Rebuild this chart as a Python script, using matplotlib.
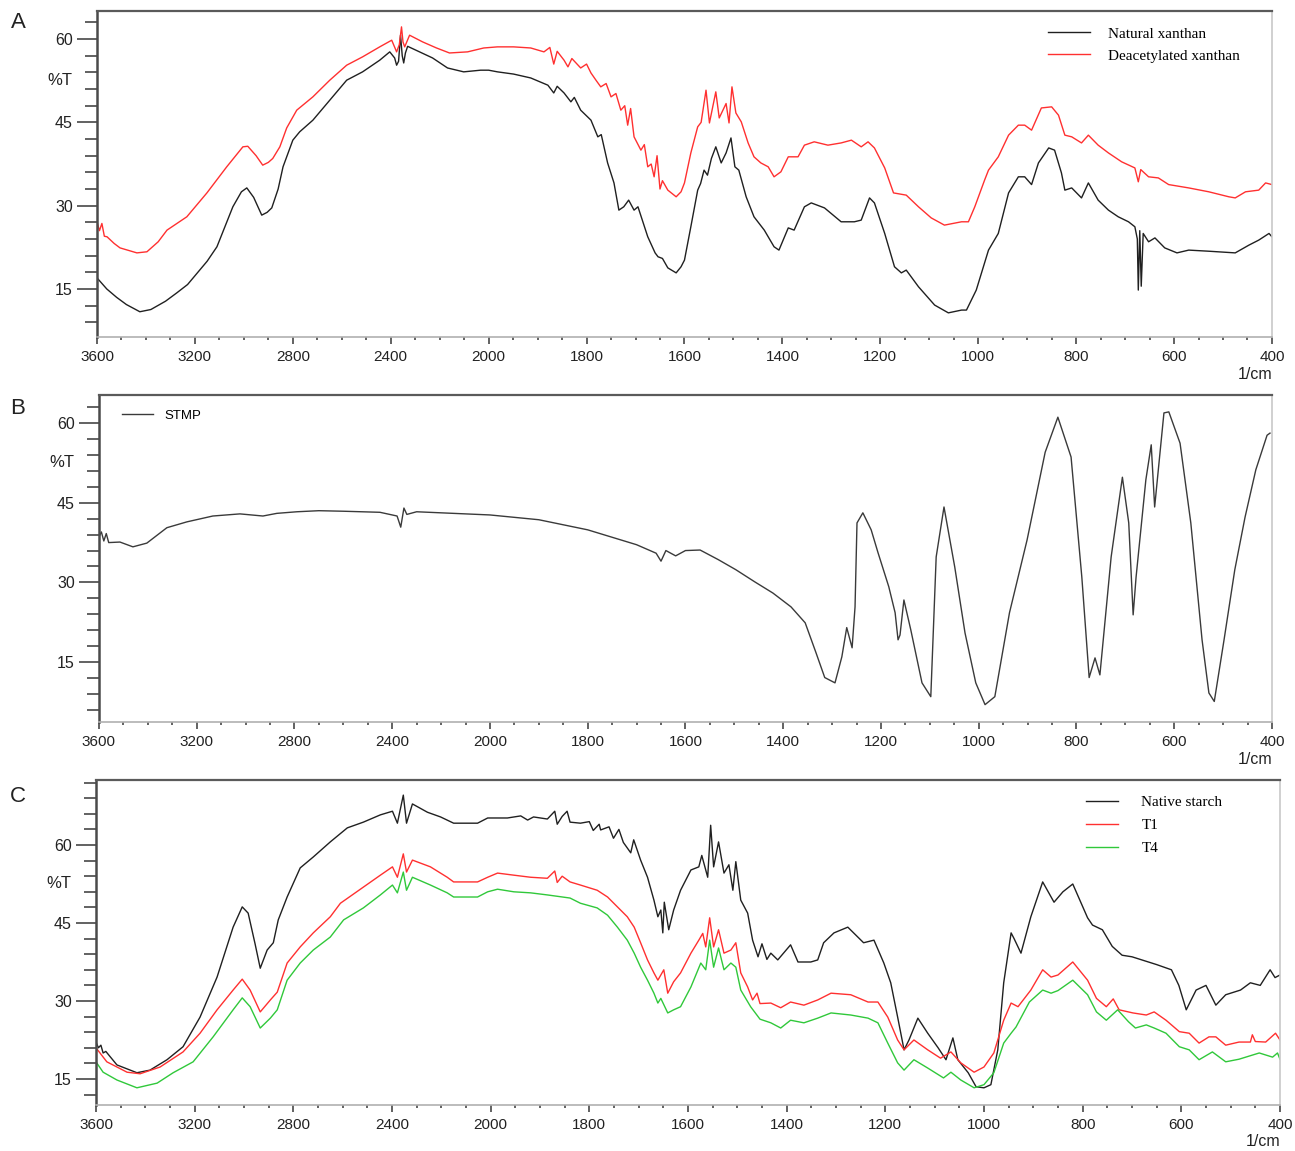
"""FTIR spectra of xanthan, STMP and cross-linked starch, drawn on a Shimadzu-style split wavenumber axis."""

import numpy as np
import matplotlib
matplotlib.use("Agg")
import matplotlib.pyplot as plt
from matplotlib.ticker import FixedLocator, NullFormatter
from matplotlib.transforms import blended_transform_factory, ScaledTranslation

# panel A: natural and deacetylated xanthan
natural_wn = [3600, 3580, 3560, 3520, 3480, 3425, 3380, 3320, 3274, 3230, 3190, 3150, 3110, 3045, 3010,
              2988, 2960, 2927, 2905, 2886, 2860, 2840, 2800, 2772, 2718, 2649, 2580, 2515, 2445, 2404,
              2384, 2376, 2368, 2360, 2353, 2347, 2340, 2331, 2282, 2229, 2168, 2102, 2033, 2000, 1982,
              1949, 1914, 1879, 1867, 1860, 1846, 1832, 1825, 1812, 1791, 1777, 1770, 1757, 1744, 1734,
              1724, 1714, 1703, 1695, 1675, 1660, 1654, 1645, 1634, 1617, 1607, 1600, 1587, 1573, 1567,
              1560, 1553, 1545, 1536, 1525, 1515, 1505, 1497, 1489, 1474, 1458, 1437, 1417, 1407, 1388,
              1376, 1355, 1341, 1314, 1280, 1253, 1239, 1222, 1212, 1191, 1171, 1157, 1147, 1122, 1089,
              1061, 1034, 1024, 1004, 979, 959, 938, 918, 905, 891, 877, 856, 844, 830, 823, 809, 789,
              775, 755, 734, 714, 693, 680, 675, 673, 670, 667, 663, 652, 639, 619, 594, 570, 529, 475,
              447, 427, 406, 400]
natural_t = [17.0, 16.0, 15.0, 13.5, 12.2, 10.9, 11.3, 12.8, 14.3, 15.8, 17.9, 20.0, 22.6, 29.8, 32.5,
             33.2, 31.5, 28.3, 28.8, 29.6, 33.0, 37.0, 41.8, 43.3, 45.4, 49.0, 52.6, 54.1, 56.2, 57.7,
             56.6, 55.3, 56.0, 60.7, 57.0, 55.7, 57.5, 58.7, 57.7, 56.6, 54.8, 54.1, 54.4, 54.4, 54.1,
             53.7, 53.0, 51.7, 50.3, 51.5, 50.3, 48.7, 49.5, 47.2, 45.4, 42.4, 42.8, 37.7, 34.1, 29.2,
             29.8, 31.0, 29.2, 29.8, 24.4, 21.5, 20.8, 20.5, 18.8, 17.9, 19.0, 20.2, 26.2, 32.8, 34.0,
             36.4, 35.5, 38.5, 40.6, 37.7, 39.5, 42.2, 37.0, 36.4, 31.6, 28.0, 25.6, 22.6, 22.0, 26.0,
             25.6, 29.8, 30.5, 29.6, 27.1, 27.1, 27.4, 31.4, 30.5, 25.0, 19.0, 17.9, 18.4, 15.4, 12.1,
             10.7, 11.2, 11.2, 14.8, 22.0, 25.0, 32.3, 35.2, 35.2, 33.8, 37.7, 40.4, 40.0, 35.9, 32.8,
             33.2, 31.4, 34.1, 31.0, 29.2, 28.0, 27.1, 26.2, 24.0, 14.8, 25.5, 15.5, 25.0, 23.5, 24.2,
             22.4, 21.5, 22.0, 21.8, 21.5, 22.9, 23.8, 25.0, 24.4]

deacetyl_wn = [3600, 3590, 3580, 3570, 3559, 3530, 3506, 3437, 3396, 3350, 3314, 3233, 3151, 3070, 3004,
               2984, 2950, 2923, 2900, 2882, 2853, 2825, 2784, 2718, 2649, 2580, 2515, 2445, 2396, 2376,
               2365, 2356, 2350, 2343, 2323, 2270, 2213, 2160, 2086, 2020, 1982, 1949, 1914, 1887, 1875,
               1867, 1860, 1846, 1838, 1830, 1812, 1800, 1791, 1780, 1771, 1760, 1750, 1740, 1730, 1722,
               1716, 1710, 1703, 1689, 1682, 1675, 1668, 1662, 1656, 1650, 1645, 1634, 1617, 1607, 1600,
               1587, 1573, 1566, 1556, 1549, 1536, 1529, 1515, 1509, 1503, 1495, 1484, 1470, 1458, 1444,
               1429, 1417, 1403, 1388, 1368, 1355, 1335, 1307, 1280, 1259, 1239, 1225, 1212, 1191, 1173,
               1147, 1122, 1096, 1069, 1034, 1020, 1007, 987, 979, 959, 938, 918, 905, 891, 871, 850, 836,
               823, 809, 789, 775, 755, 734, 707, 680, 673, 668, 652, 632, 611, 570, 529, 488, 475, 454,
               427, 413, 400]
deacetyl_t = [27.1, 25.5, 26.8, 24.5, 24.4, 23.2, 22.4, 21.5, 21.7, 23.5, 25.6, 28.0, 32.3, 37.0, 40.6,
              40.7, 39.0, 37.3, 37.8, 38.5, 40.6, 44.0, 47.2, 49.6, 52.6, 55.3, 56.8, 58.6, 59.8, 57.7,
              59.0, 62.2, 59.5, 58.6, 60.7, 59.5, 58.4, 57.5, 57.7, 58.4, 58.6, 58.6, 58.4, 57.7, 58.5,
              55.5, 57.8, 56.2, 55.0, 56.5, 54.8, 55.5, 53.9, 52.5, 51.4, 52.0, 49.6, 50.2, 47.2, 48.0,
              44.5, 47.5, 42.4, 40.0, 41.0, 37.0, 37.5, 35.2, 39.0, 33.0, 34.5, 32.8, 31.6, 32.5, 34.1,
              39.5, 44.2, 45.0, 50.8, 44.9, 50.5, 45.8, 48.4, 44.9, 51.4, 46.7, 45.1, 41.3, 38.8, 37.7,
              37.0, 35.2, 36.1, 38.8, 38.8, 40.9, 41.5, 40.9, 41.3, 41.8, 40.6, 41.5, 40.4, 36.8, 32.3,
              31.9, 29.8, 27.8, 26.5, 27.1, 27.1, 29.8, 34.6, 36.4, 38.8, 42.7, 44.5, 44.5, 43.6, 47.6,
              47.8, 46.3, 42.7, 42.4, 41.3, 42.7, 40.9, 39.5, 37.9, 36.8, 34.3, 36.5, 35.2, 35.0, 33.8,
              33.2, 32.5, 31.6, 31.4, 32.5, 32.8, 34.1, 33.8]

# panel B: sodium trimetaphosphate
stmp_wn = [3600, 3590, 3580, 3570, 3560, 3514, 3461, 3404, 3322, 3240, 3134, 3023, 2929, 2872, 2790,
           2700, 2600, 2450, 2380, 2365, 2352, 2340, 2300, 2150, 2000, 1900, 1800, 1700, 1660, 1650,
           1640, 1620, 1600, 1570, 1533, 1497, 1458, 1421, 1384, 1355, 1333, 1315, 1294, 1280, 1270,
           1259, 1253, 1249, 1237, 1220, 1206, 1184, 1171, 1165, 1161, 1153, 1139, 1116, 1098, 1087,
           1071, 1049, 1028, 1006, 987, 967, 937, 901, 864, 838, 811, 789, 774, 762, 752, 729, 706,
           693, 684, 678, 658, 647, 640, 621, 611, 588, 566, 543, 529, 518, 498, 476, 455, 433, 410,
           404]
stmp_t = [38.6, 39.5, 37.8, 39.2, 37.5, 37.6, 36.7, 37.4, 40.3, 41.4, 42.5, 42.9, 42.5, 43.0, 43.3,
          43.5, 43.4, 43.2, 42.5, 40.4, 44.0, 42.8, 43.3, 43.0, 42.7, 41.8, 39.9, 37.1, 35.5, 34.0,
          36.0, 35.0, 36.0, 36.1, 34.3, 32.4, 30.1, 28.0, 25.4, 22.4, 16.8, 12.1, 11.1, 16.0, 21.5,
          17.7, 25.4, 41.2, 43.1, 39.9, 35.6, 29.2, 24.3, 19.2, 20.1, 26.7, 21.1, 11.1, 8.5, 34.8,
          44.2, 32.9, 20.5, 11.1, 7.0, 8.5, 24.3, 38.0, 54.5, 61.1, 53.6, 31.0, 12.1, 15.8, 12.6, 34.8,
          49.8, 41.2, 23.9, 31.0, 49.3, 55.9, 44.2, 61.9, 62.1, 56.2, 41.2, 19.2, 9.2, 7.6, 19.2, 32.4,
          42.3, 51.2, 57.7, 58.1]

# panel C: native starch and cross-linked samples T1, T4
native_wn = [3600, 3590, 3580, 3571, 3560, 3515, 3434, 3381, 3312, 3247, 3178, 3109, 3044, 3007, 2983,
             2955, 2934, 2906, 2881, 2861, 2825, 2772, 2719, 2650, 2581, 2516, 2447, 2398, 2378, 2354,
             2341, 2317, 2256, 2203, 2150, 2053, 2012, 1966, 1939, 1925, 1913, 1885, 1870, 1865, 1855,
             1845, 1839, 1818, 1800, 1792, 1780, 1777, 1760, 1751, 1740, 1731, 1716, 1710, 1696, 1682,
             1669, 1661, 1655, 1651, 1648, 1639, 1629, 1615, 1594, 1578, 1572, 1560, 1554, 1548, 1538,
             1527, 1517, 1509, 1503, 1493, 1479, 1469, 1458, 1450, 1440, 1432, 1418, 1392, 1377, 1351,
             1337, 1325, 1304, 1276, 1244, 1223, 1203, 1189, 1175, 1162, 1152, 1134, 1114, 1093, 1077,
             1063, 1053, 1032, 1016, 1000, 986, 972, 960, 945, 939, 925, 905, 881, 858, 840, 820, 790,
             780, 760, 740, 720, 700, 680, 650, 620, 605, 590, 570, 550, 530, 510, 480, 460, 440, 420,
             410, 400]
native_t = [22.1, 21.0, 21.5, 20.0, 20.3, 17.7, 16.2, 16.7, 18.7, 21.2, 26.9, 34.6, 44.2, 48.1, 46.9,
            41.0, 36.3, 39.8, 41.2, 45.6, 50.0, 55.6, 57.7, 60.6, 63.3, 64.4, 65.8, 66.5, 64.2, 69.6,
            64.2, 67.9, 66.3, 65.4, 64.2, 64.2, 65.2, 65.2, 65.6, 64.8, 65.4, 65.0, 66.5, 64.0, 65.5,
            66.5, 64.4, 64.2, 64.5, 62.8, 64.0, 62.9, 63.5, 61.3, 63.0, 60.5, 58.5, 61.0, 57.1, 53.8,
            49.4, 46.2, 47.5, 43.1, 49.0, 43.7, 47.5, 51.3, 55.2, 55.8, 58.0, 53.8, 63.8, 55.8, 60.6,
            54.6, 56.2, 51.3, 56.8, 49.4, 46.9, 41.7, 38.5, 41.0, 38.0, 39.2, 37.9, 40.8, 37.5, 37.5,
            37.9, 41.2, 43.1, 44.2, 41.2, 41.7, 37.3, 33.5, 26.9, 20.6, 22.5, 26.7, 23.8, 21.0, 18.7,
            22.9, 18.7, 16.2, 13.5, 13.3, 13.9, 20.6, 33.5, 43.1, 42.0, 39.2, 46.2, 52.9, 49.0, 51.0,
            52.5, 46.0, 44.6, 43.7, 40.5, 38.8, 38.5, 37.9, 37.0, 36.0, 33.0, 28.3, 32.1, 33.0, 29.2,
            31.2, 32.1, 33.5, 33.0, 36.0, 34.5, 35.0]

t1_wn = [3600, 3556, 3474, 3421, 3340, 3247, 3178, 3109, 3044, 3007, 2975, 2934, 2893, 2865, 2825,
         2772, 2719, 2650, 2609, 2516, 2447, 2398, 2378, 2354, 2341, 2317, 2244, 2176, 2150, 2053,
         2012, 1986, 1953, 1919, 1885, 1870, 1865, 1855, 1839, 1818, 1784, 1763, 1743, 1723, 1709,
         1696, 1682, 1669, 1661, 1649, 1641, 1629, 1615, 1594, 1578, 1570, 1564, 1556, 1548, 1538,
         1527, 1513, 1503, 1493, 1479, 1469, 1460, 1454, 1432, 1412, 1392, 1365, 1337, 1310, 1270,
         1235, 1215, 1195, 1175, 1162, 1142, 1114, 1088, 1067, 1047, 1020, 1000, 980, 960, 945, 931,
         905, 881, 864, 850, 820, 790, 772, 752, 738, 726, 698, 671, 655, 631, 604, 584, 564, 544,
         530, 510, 483, 460, 456, 450, 429, 409, 400]
t1_t = [21.0, 18.3, 16.3, 16.0, 17.3, 20.2, 23.8, 28.3, 32.1, 34.2, 32.1, 27.9, 30.2, 31.7, 37.3,
        40.4, 43.1, 46.2, 48.8, 51.9, 54.2, 55.8, 53.8, 58.3, 54.8, 57.1, 55.8, 53.8, 52.9, 52.9,
        53.8, 54.6, 54.2, 53.8, 53.6, 55.0, 52.8, 54.0, 52.9, 52.3, 51.3, 50.0, 48.1, 46.2, 44.2,
        41.2, 37.9, 35.4, 34.0, 36.0, 31.5, 33.7, 35.4, 39.2, 41.7, 43.0, 40.4, 46.0, 40.4, 43.7,
        39.2, 39.8, 41.2, 35.4, 32.7, 30.2, 31.5, 29.5, 29.6, 28.7, 29.8, 29.2, 30.2, 31.5, 31.2,
        29.8, 29.8, 26.9, 22.5, 20.6, 22.5, 20.6, 19.0, 20.2, 18.1, 16.3, 17.3, 20.0, 26.3, 29.6, 28.9,
        32.1, 36.0, 34.6, 35.0, 37.5, 34.0, 30.5, 28.9, 30.4, 28.3, 27.7, 27.3, 27.9, 26.3, 24.1,
        23.8, 21.9, 23.1, 23.1, 21.5, 22.1, 22.1, 23.5, 22.2, 22.1, 23.8, 22.5]

t4_wn = [3600, 3571, 3515, 3434, 3352, 3287, 3206, 3125, 3044, 3007, 2975, 2934, 2893, 2865, 2825,
         2772, 2719, 2650, 2596, 2516, 2447, 2398, 2378, 2354, 2341, 2317, 2244, 2176, 2150, 2053,
         2012, 1986, 1953, 1919, 1885, 1839, 1818, 1784, 1763, 1743, 1723, 1709, 1696, 1682, 1669,
         1661, 1655, 1641, 1629, 1615, 1594, 1574, 1564, 1556, 1548, 1538, 1527, 1513, 1503, 1493,
         1473, 1454, 1432, 1412, 1392, 1365, 1337, 1310, 1270, 1235, 1215, 1195, 1175, 1162, 1142,
         1114, 1082, 1067, 1047, 1020, 1000, 980, 960, 945, 935, 908, 881, 864, 850, 820, 790, 772,
         752, 729, 707, 693, 671, 655, 631, 604, 584, 564, 537, 510, 483, 442, 415, 405, 400]
t4_t = [18.3, 16.3, 14.8, 13.3, 14.2, 16.2, 18.3, 23.1, 28.3, 30.6, 28.9, 24.8, 26.7, 28.3, 34.0,
        37.3, 39.8, 42.3, 45.6, 47.9, 50.4, 52.3, 50.8, 54.8, 51.3, 53.8, 52.3, 50.8, 50.0, 50.0,
        51.0, 51.5, 51.0, 50.8, 50.4, 49.8, 48.8, 47.9, 46.5, 44.2, 41.7, 39.2, 36.5, 34.0, 31.5,
        29.6, 30.5, 27.7, 28.3, 28.9, 32.7, 37.3, 36.0, 41.7, 36.5, 40.2, 36.0, 37.3, 36.5, 32.1,
        28.9, 26.5, 25.8, 24.8, 26.3, 25.8, 26.7, 27.7, 27.3, 26.7, 25.8, 21.9, 18.1, 16.7, 18.7,
        17.1, 15.2, 16.3, 14.8, 13.3, 13.9, 16.2, 21.9, 23.8, 25.0, 29.8, 32.1, 31.5, 32.0, 34.0,
        31.2, 27.9, 26.3, 28.3, 26.0, 24.8, 25.4, 24.8, 23.8, 21.2, 20.6, 18.7, 20.2, 18.3, 18.8,
        20.0, 19.2, 20.0, 18.8]

MAJOR_WN = [3600, 3200, 2800, 2400, 2000, 1800, 1600, 1400, 1200, 1000, 800, 600, 400]
Y_TICKS = [15, 30, 45, 60]

BLACK = "#202020"
RED = "#ff3030"
GREEN = "#30c83a"
SERIF = "Liberation Serif"
SANS = "Liberation Sans"


def forward(wn):
    """Spectrometer axis: above 2000 1/cm the scale is compressed by half."""
    wn = np.asarray(wn, dtype=float)
    return np.where(wn > 2000, 2000 + (wn - 2000) / 2.0, wn)


def inverse(u):
    u = np.asarray(u, dtype=float)
    return np.where(u > 2000, 2000 + (u - 2000) * 2.0, u)


def style_axis(fig, ax, ylim):
    """Applies the instrument-software look to one spectrum panel."""
    ax.set_xscale("function", functions=(forward, inverse))
    ax.set_xlim(3600, 400)
    ax.set_ylim(*ylim)

    minor_wn = [w for w in range(3600, 2000, -100) if w not in MAJOR_WN]
    minor_wn += [w for w in range(2000, 399, -50) if w not in MAJOR_WN]
    ax.xaxis.set_major_locator(FixedLocator(MAJOR_WN))
    ax.xaxis.set_minor_locator(FixedLocator(minor_wn))
    ax.xaxis.set_minor_formatter(NullFormatter())
    ax.set_xticklabels([str(w) for w in MAJOR_WN])

    ax.yaxis.set_major_locator(FixedLocator(Y_TICKS))
    ax.yaxis.set_minor_locator(FixedLocator([v for v in range(0, 75, 3) if v not in Y_TICKS]))

    # tick lengths are in points (100 dpi: 1 pt = 1.39 px)
    ax.tick_params(axis="x", which="major", direction="out", length=5, width=1.3, color="#555555",
                   labelsize=11, pad=4.5)
    ax.tick_params(axis="x", which="minor", direction="out", length=2.5, width=1.3, color="#555555")
    ax.tick_params(axis="y", which="major", direction="out", length=14.4, width=1.3, color="#555555",
                   labelsize=11.5, pad=3)
    ax.tick_params(axis="y", which="minor", direction="out", length=8.6, width=1.3, color="#555555")
    for label in ax.get_xticklabels() + ax.get_yticklabels():
        label.set_fontfamily(SANS)
        label.set_color("#222222")

    ax.spines["left"].set_color("#4a4a4a")
    ax.spines["left"].set_linewidth(1.8)
    ax.spines["top"].set_color("#5a5a5a")
    ax.spines["top"].set_linewidth(1.6)
    ax.spines["right"].set_color("#c8c8c8")
    ax.spines["right"].set_linewidth(1.2)
    ax.spines["bottom"].set_color("#b0b0b0")
    ax.spines["bottom"].set_linewidth(1.2)

    trans = blended_transform_factory(ax.transAxes, ax.transData)
    ax.text(-0.021, 52.6, "%T", transform=trans, ha="right", va="center", fontsize=12,
            family=SANS, color="#222222")
    below = ax.transAxes + ScaledTranslation(0, -37 / 100, fig.dpi_scale_trans)
    ax.text(1.0, 0.0, "1/cm", transform=below, ha="right", va="center", fontsize=11.5,
            family=SANS, color="#222222")


def main():
    fig = plt.figure(figsize=(12.95, 11.51), dpi=100)

    # panel A
    ax_a = fig.add_axes([0.0749, 0.7072, 0.9073, 0.2832])
    ax_a.plot(natural_wn, natural_t, color=BLACK, lw=1.0, label="Natural xanthan")
    ax_a.plot(deacetyl_wn, deacetyl_t, color=RED, lw=1.0, label="Deacetylated xanthan")
    style_axis(fig, ax_a, (6.35, 65.05))
    ax_a.legend(loc="upper left", bbox_to_anchor=(0.803, 0.975), frameon=False, borderpad=0,
                handlelength=2.75, handletextpad=1.15, labelspacing=0.55,
                prop={"family": SERIF, "size": 11})

    # panel B
    ax_b = fig.add_axes([0.0764, 0.3727, 0.9058, 0.2841])
    ax_b.plot(stmp_wn, stmp_t, color="#3a3a3a", lw=1.0, label="STMP")
    style_axis(fig, ax_b, (3.73, 65.27))
    ax_b.legend(loc="upper left", bbox_to_anchor=(0.014, 0.975), frameon=False, borderpad=0,
                handlelength=2.35, handletextpad=0.9, prop={"family": SANS, "size": 9.5})

    # panel C
    ax_c = fig.add_axes([0.0741, 0.0400, 0.9143, 0.2823])
    ax_c.plot(native_wn, native_t, color=BLACK, lw=1.0, label="Native starch")
    ax_c.plot(t1_wn, t1_t, color=RED, lw=1.0, label="T1")
    ax_c.plot(t4_wn, t4_t, color=GREEN, lw=1.0, label="T4")
    style_axis(fig, ax_c, (10.0, 72.5))
    ax_c.legend(loc="upper left", bbox_to_anchor=(0.830, 0.975), frameon=False, borderpad=0,
                handlelength=2.1, handletextpad=1.5, labelspacing=0.6,
                prop={"family": SERIF, "size": 11})

    for letter, y in (("A", 22), ("B", 408), ("C", 797)):
        fig.text(18 / 1295, 1 - y / 1151, letter, ha="center", va="center", fontsize=16,
                 family=SANS, color="#222222")

    fig.savefig("out.png", dpi=100, facecolor="white")


if __name__ == "__main__":
    main()
